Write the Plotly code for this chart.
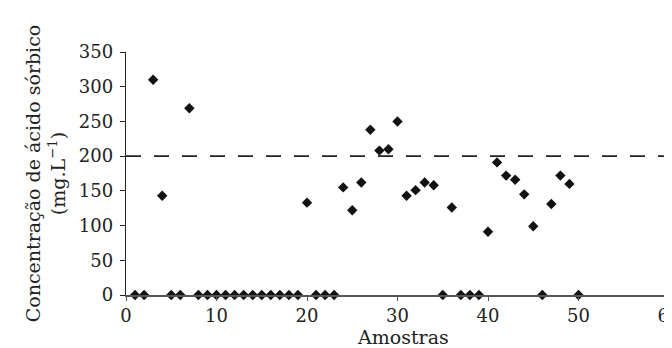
import plotly.graph_objects as go

samples = list(range(1, 51))
concentration = [
    0, 0, 310, 143, 0, 0, 269, 0, 0, 0,
    0, 0, 0, 0, 0, 0, 0, 0, 0, 133,
    0, 0, 0, 155, 122, 162, 238, 208, 210, 250,
    143, 151, 162, 158, 0, 126, 0, 0, 0, 91,
    191, 172, 166, 145, 99, 0, 131, 172, 160, 0,
]
limit_value = 200
x_ticks = [0, 10, 20, 30, 40, 50, 60]
y_ticks = [0, 50, 100, 150, 200, 250, 300, 350]
x_title = "Amostras"
y_title = "Concentração de ácido sórbico<br>(mg.L<sup>−1</sup>)"

FONT = "DejaVu Serif"

fig = go.Figure()
fig.add_trace(go.Scatter(
    x=[0, 60], y=[limit_value, limit_value], mode="lines",
    line=dict(color="#222222", width=1.6, dash="15px,13px"),
    hoverinfo="skip", showlegend=False, cliponaxis=False,
))
fig.add_trace(go.Scatter(
    x=samples, y=concentration, mode="markers",
    marker=dict(symbol="diamond", size=8, color="#111111"),
    showlegend=False, cliponaxis=False,
))

fig.add_annotation(
    text=x_title, xref="paper", yref="paper", x=0.5, y=0,
    xanchor="center", yanchor="middle", xshift=5, yshift=-42,
    borderpad=0, showarrow=False,
    font=dict(family=FONT, size=19, color="#222222"),
)

fig.update_layout(
    width=672, height=348,
    margin=dict(l=118, r=11, t=44, b=61, pad=0),
    paper_bgcolor="white", plot_bgcolor="white",
    font=dict(family=FONT, size=18, color="#222222"),
    xaxis=dict(
        range=[0, 60], tickvals=x_ticks, ticks="outside", ticklen=4,
        tickwidth=1.3, tickcolor="#555555", automargin=False,
        ticklabeloverflow="allow",
        showline=True, linecolor="#555555", linewidth=1.6,
        showgrid=False, zeroline=False,
        tickfont=dict(family=FONT, size=18),
    ),
    yaxis=dict(
        range=[0, 350], tickvals=y_ticks, ticks="outside", ticklen=5,
        tickwidth=1.3, tickcolor="#222222", automargin=False,
        ticklabelstandoff=3,
        showline=True, linecolor="#222222", linewidth=1.4,
        showgrid=False, zeroline=False,
        title=dict(text=y_title, font=dict(family=FONT, size=19), standoff=8),
        tickfont=dict(family=FONT, size=18),
    ),
)

fig.write_html("out.html")
